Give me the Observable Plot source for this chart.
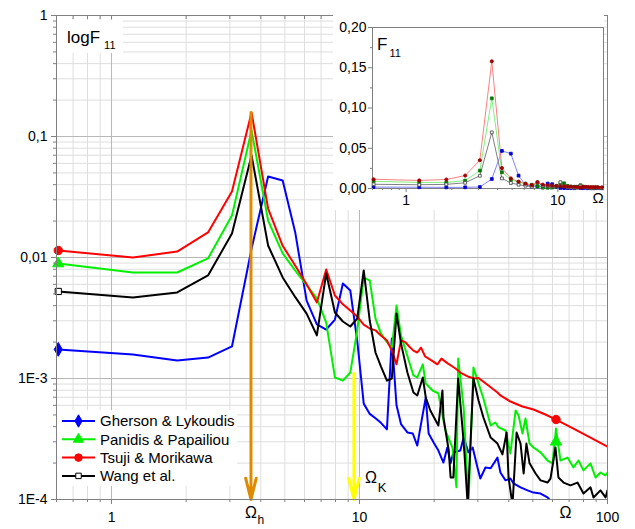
<!DOCTYPE html>
<html><head><meta charset="utf-8">
<script src="https://cdn.jsdelivr.net/npm/d3@7"></script>
<script src="https://cdn.jsdelivr.net/npm/@observablehq/plot@0.6"></script>
<style>
body{margin:0;background:#fff;}
#wrap{position:relative;width:635px;height:529px;overflow:hidden;font-family:"Liberation Sans",Arial,sans-serif;}
#wrap > svg{position:absolute;}
</style></head><body><div id="wrap"></div>
<script>
// ---------- data ----------
const seriesNames = ["Gherson & Lykoudis","Panidis & Papailiou","Tsuji & Morikawa","Wang et al."];
const seriesColors = ["#0000ff","#00f000","#ff0000","#000000"];
const insetLineColors = ["#8080ff","#80f080","#ff8080","#808080"];
const insetDotColors = ["#0000d0","#007a00","#a00000","#404040"];

const omegaGherson = [0.61,1.22,1.84,2.45,3.06,3.67,4.28,4.9,5.51,6.12,6.73,7.34,7.96,8.57,9.18,9.79,10.4,11.0,11.6,12.2,12.9,13.5,14.1,14.7,15.6,16.4,17.1,17.6,18.5,19.0,19.9,20.8,21.8,22.6,23.3,23.9,25.5,26.3,27.5,28.6,29.9,30.7,32.2,33.8,36.0,37.0,38.8,40.6,41.8,44.6,47.6,50.3,53.7,57.3,58.9];
const fGherson = [0.00174,0.00158,0.00141,0.00149,0.00184,0.0118,0.0467,0.0433,0.016,0.0044,0.0028,0.00254,0.00307,0.0061,0.00534,0.00206,0.00062,0.00051,0.00047,0.00043,0.00038,0.00214,0.0006,0.00042,0.000358,0.000351,0.000279,0.000394,0.000697,0.000351,0.000296,0.000254,0.000202,0.000269,0.000199,0.000245,0.000254,0.000325,0.000245,0.000269,0.000184,0.000149,0.000184,0.000181,0.000222,0.000167,0.000144,0.000149,0.000136,0.000126,0.000119,0.000114,0.000112,0.000104,0.000098];

const omegaPanidis = [0.61,1.22,1.84,2.45,3.06,3.67,4.28,4.9,5.51,6.12,6.73,7.34,7.96,8.57,9.18,9.79,10.4,11.0,11.6,12.2,12.9,13.5,14.1,14.7,15.8,16.5,17.1,18.0,18.5,19.7,20.8,22.2,23.7,24.6,25.0,26.3,27.5,28.8,30.2,31.6,33.8,35.3,36.4,38.8,40.6,42.6,43.8,45.4,46.7,48.5,50.3,53.7,57.3,60.0,62.0,64.6,69.0,72.9,76.4,80.0,85.4,89.5,93.7,98.2,100];
const fPanidis = [0.00891,0.00752,0.00752,0.00982,0.0222,0.112,0.0202,0.0108,0.0078,0.0059,0.0046,0.0029,0.00102,0.00096,0.00112,0.0025,0.00684,0.00645,0.00313,0.00236,0.002,0.0018,0.00401,0.00227,0.00141,0.00106,0.00102,0.00131,0.00091,0.000796,0.000752,0.000372,0.000269,0.000126,0.00146,0.000575,0.00009,0.00123,0.00091,0.000684,0.000409,0.000433,0.000394,0.000372,0.00024,0.000544,0.000494,0.000351,0.000467,0.00029,0.000269,0.000245,0.00021,0.000199,0.000386,0.00021,0.000222,0.000184,0.00021,0.000174,0.000199,0.000152,0.000167,0.000158,0.000167];

const omegaTsuji = [0.61,1.22,1.84,2.45,3.06,3.67,4.28,4.9,5.51,6.12,6.73,7.34,7.96,8.57,9.18,9.79,10.4,11.0,11.6,12.2,12.9,13.5,14.1,14.7,15.3,15.9,16.5,17.1,17.7,18.4,19.5,20.6,21.4,22.6,24.4,25.5,27.3,29.1,30.2,33.1,36.0,37.0,40.6,45.4,50.3,56.2,62.0,72.9,85.4,100];
const fTsuji = [0.01143,0.0100,0.0112,0.0161,0.0351,0.158,0.0254,0.0125,0.00855,0.006,0.00425,0.00796,0.00485,0.0041,0.00365,0.00325,0.00279,0.00259,0.0025,0.00227,0.00206,0.0017,0.00131,0.00206,0.002,0.00183,0.0017,0.00164,0.0018,0.00152,0.00141,0.00131,0.00146,0.00134,0.00121,0.00112,0.00104,0.0010,0.00101,0.000875,0.000766,0.000724,0.000645,0.000587,0.000554,0.000504,0.000458,0.000386,0.000325,0.000274];

const omegaWang = [0.61,1.22,1.84,2.45,3.06,3.67,4.28,4.9,5.51,6.12,6.73,7.34,7.96,8.57,9.18,9.79,10.4,11.0,11.6,12.2,12.9,13.5,14.1,14.7,15.6,16.5,17.1,18.0,18.5,19.3,20.8,21.6,21.8,22.9,23.3,23.9,25.0,26.0,26.5,27.3,28.8,30.2,31.6,33.8,36.0,37.7,39.2,39.9,41.4,43.0,44.6,45.9,47.1,48.5,51.3,53.7,57.3,58.9,61.7,63.4,66.5,70.9,75.7,80.0,85.4,87.8,93.7,98.2,100];
const fWang = [0.00524,0.00467,0.00514,0.0071,0.0158,0.0697,0.01257,0.00684,0.0047,0.00344,0.00227,0.00738,0.00351,0.00296,0.00269,0.00313,0.00781,0.0030,0.00164,0.00126,0.00096,0.001,0.00344,0.00195,0.00112,0.000766,0.000724,0.00102,0.000697,0.000544,0.000409,0.000796,0.000476,0.000254,0.000152,0.000152,0.001,0.000394,0.00024,0.00009,0.001,0.000658,0.000476,0.000325,0.00029,0.000236,0.000358,0.000152,0.00009,0.000358,0.00029,0.000164,0.00029,0.000199,0.000164,0.000144,0.000138,0.000149,0.000269,0.000152,0.000138,0.000131,0.000138,0.000112,0.000126,0.000104,0.000119,0.000104,0.000119];

const markerSeries = ["Gherson & Lykoudis","Panidis & Papailiou","Tsuji & Morikawa","Wang et al.","Panidis & Papailiou","Tsuji & Morikawa"];
const markerOmega = [0.61,0.61,0.61,0.61,62.0,62.0];
const markerF = [0.00174,0.00891,0.01143,0.00524,0.0003,0.000458];

const omegaH = 3.65, arrowHFrom = 0.158;
const omegaK = 9.5, arrowKFrom = 0.0011;
const omegaAxisTitle = 67.7, insetOmegaTitle = 18.4;

const xMajor = [1,10,100]; const xLabels = ["1","10","100"];
const yMajor = [1e-4,1e-3,0.01,0.1,1]; const yLabels = ["1E-4","1E-3","0,01","0,1","1"];
const insetYTicks = [0,0.05,0.1,0.15,0.2]; const insetYLabels = ["0,00","0,05","0,10","0,15","0,20"];
const insetYMinor = [0.025,0.075,0.125,0.175];
const insetXMajor = [1,10]; const insetXLabels = ["1","10"];

// ---------- build ----------
const FONT = '"Liberation Sans", Arial, sans-serif';
const omegas = [omegaGherson, omegaPanidis, omegaTsuji, omegaWang];
const values = [fGherson, fPanidis, fTsuji, fWang];
const series = seriesNames.map((name, i) => ({
  name, color: seriesColors[i], insetLine: insetLineColors[i], insetDot: insetDotColors[i],
  rows: omegas[i].map((o, j) => ({omega: o, F: values[i][j]}))
}));
const markers = markerSeries.map((s, i) => ({series: s, omega: markerOmega[i], F: markerF[i]}));
const symbols = ["diamond","triangle","circle","square"];

const isMajor = (v, maj) => maj.some(m => Math.abs(v / m - 1) < 1e-9);
const xAll = d3.scaleLog().domain([0.6, 100]).ticks();
const xMinor = xAll.filter(v => !isMajor(v, xMajor));
const yMinor = d3.scaleLog().domain([1e-4, 1]).ticks().filter(v => !isMajor(v, yMajor));

const W = 635, H = 529, mL = 56, mR = 28, mT = 15, mB = 30;
const frameH = H - mT - mB;
const GRIDMIN = "#dedede", GRIDMAJ = "#b8b8b8", AX = "#808080";

const mainMarks = [
  Plot.gridX(xMinor, {stroke: GRIDMIN, strokeOpacity: 1}),
  Plot.gridY(yMinor, {stroke: GRIDMIN, strokeOpacity: 1}),
  Plot.gridX(xMajor, {stroke: GRIDMAJ, strokeOpacity: 1}),
  Plot.gridY(yMajor, {stroke: GRIDMAJ, strokeOpacity: 1}),
];
series.forEach(s => mainMarks.push(Plot.line(s.rows, {x: "omega", y: "F", stroke: s.color, strokeWidth: 2, clip: true})));
series.forEach((s, i) => {
  const m = markers.filter(d => d.series === s.name);
  mainMarks.push(Plot.dot(m, {x: "omega", y: "F", symbol: () => symbols[i], r: i === 3 ? 3.5 : 4.2,
    fill: i === 3 ? "#fff" : s.color, stroke: s.color, strokeWidth: 1}));
});
mainMarks.push(
  Plot.arrow([{x1: omegaH, y1: arrowHFrom, x2: omegaH, y2: 1e-4}], {x1: "x1", y1: "y1", x2: "x2", y2: "y2", stroke: "#e08a00", strokeWidth: 3, headLength: 11, headAngle: 28}),
  Plot.arrow([{x1: omegaK, y1: arrowKFrom, x2: omegaK, y2: 1e-4}], {x1: "x1", y1: "y1", x2: "x2", y2: "y2", stroke: "#ffff00", strokeWidth: 3, headLength: 11, headAngle: 28}),
  Plot.frame({stroke: AX}),
  Plot.axisY(yMajor, {anchor: "left", tickSize: 5, tickPadding: 4, stroke: AX, fill: "#000", fontSize: 14, label: null, tickFormat: d => yLabels[yMajor.indexOf(d)]}),
  Plot.axisY(yMinor, {anchor: "left", tickSize: 3, stroke: AX, label: null, tickFormat: () => ""}),
  Plot.axisX(xMajor, {anchor: "bottom", tickSize: 5, tickPadding: 8, stroke: AX, fill: "#000", fontSize: 14, label: null, tickFormat: d => xLabels[xMajor.indexOf(d)]}),
  Plot.axisX(xMinor, {anchor: "bottom", tickSize: 3, stroke: AX, label: null, tickFormat: () => ""}),
  Plot.tickX(xAll, {insetBottom: frameH - 4, stroke: AX}),
  Plot.text([{x: omegaAxisTitle, t: "Ω"}], {x: "x", text: "t", frameAnchor: "bottom", dy: 18, fontSize: 16, fill: "#000"}),
  Plot.text([{x: omegaH, t: "Ω"}], {x: "x", text: "t", frameAnchor: "bottom", dy: 18, fontSize: 16, fill: "#000"}),
  Plot.text([{x: omegaH, t: "h"}], {x: "x", text: "t", frameAnchor: "bottom", dx: 10, dy: 24, fontSize: 12, fill: "#000"}),
  Plot.text([{x: omegaK, t: "Ω"}], {x: "x", text: "t", frameAnchor: "bottom", dx: 17, dy: -17, fontSize: 16, fill: "#000"}),
  Plot.text([{x: omegaK, t: "K"}], {x: "x", text: "t", frameAnchor: "bottom", dx: 28, dy: -8, fontSize: 13, fill: "#000"})
);

const mainSvg = Plot.plot({
  width: W, height: H, marginLeft: mL, marginRight: mR, marginTop: mT, marginBottom: mB,
  style: {background: "#fff", fontFamily: FONT, fontSize: "14px", color: "#000"},
  x: {type: "log", domain: [0.6, 100], label: null},
  y: {type: "log", domain: [1e-4, 1], label: null},
  marks: mainMarks
});
mainSvg.style.left = "0px"; mainSvg.style.top = "0px";
document.getElementById("wrap").appendChild(mainSvg);

// ---------- inset ----------
const insetXAll = d3.scaleLog().domain([0.6, 20]).ticks();
const insetXMinor = insetXAll.filter(v => !isMajor(v, insetXMajor));
const insetMarks = [Plot.frame({stroke: AX})];
[0, 1, 3, 2].forEach(i => {
  const s = series[i];
  const r = s.rows.filter(d => d.omega <= 21);
  insetMarks.push(Plot.line(r, {x: "omega", y: "F", stroke: s.insetLine, strokeWidth: 1, clip: true}));
});
[0, 1, 3, 2].forEach(i => {
  const s = series[i];
  const r = s.rows.filter(d => d.omega <= 20);
  insetMarks.push(Plot.dot(r, {x: "omega", y: "F", symbol: i === 2 ? "circle" : "square", r: 1.6,
    fill: i === 3 ? "#fff" : s.insetDot, stroke: s.insetDot, strokeWidth: 0.8}));
});
insetMarks.push(
  Plot.axisY(insetYTicks, {anchor: "left", tickSize: 4, tickPadding: 2, stroke: AX, fill: "#000", fontSize: 14, label: null, tickFormat: d => insetYLabels[insetYTicks.indexOf(d)]}),
  Plot.axisY(insetYMinor, {anchor: "left", tickSize: 2, stroke: AX, label: null, tickFormat: () => ""}),
  Plot.axisX(insetXMajor, {anchor: "bottom", tickSize: 4, tickPadding: 3, stroke: AX, fill: "#000", fontSize: 14, label: null, tickFormat: d => insetXLabels[insetXMajor.indexOf(d)]}),
  Plot.axisX(insetXMinor, {anchor: "bottom", tickSize: 2, stroke: AX, label: null, tickFormat: () => ""}),
  Plot.text([{x: insetOmegaTitle, t: "Ω"}], {x: "x", text: "t", frameAnchor: "bottom", dy: 14, fontSize: 15, fill: "#000"})
);
const insetSvg = Plot.plot({
  width: 271, height: 195, marginLeft: 39, marginRight: 1, marginTop: 12, marginBottom: 22,
  style: {background: "#fff", fontFamily: FONT, fontSize: "14px", color: "#000"},
  x: {type: "log", domain: [0.6, 20], label: null},
  y: {domain: [0, 0.2], label: null},
  marks: insetMarks
});
insetSvg.style.left = "333px"; insetSvg.style.top = "15px";
document.getElementById("wrap").appendChild(insetSvg);

// ---------- overlay: titles and legend ----------
const ov = d3.select("#wrap").append("svg").attr("width", W).attr("height", H)
  .style("left", "0px").style("top", "0px").style("font-family", FONT).style("pointer-events", "none");
ov.append("rect").attr("x", 57).attr("y", 20).attr("width", 66).attr("height", 33).attr("fill", "#fff");
const t1 = ov.append("text").attr("x", 67).attr("y", 43).attr("font-size", 17);
t1.append("tspan").text("logF");
t1.append("tspan").attr("font-size", 11).attr("dx", 4).attr("dy", 6).text("11");
const t2 = ov.append("text").attr("x", 377).attr("y", 50).attr("font-size", 17);
t2.append("tspan").text("F");
t2.append("tspan").attr("font-size", 11).attr("dx", 2).attr("dy", 7).text("11");

const legendSymbols = [d3.symbolDiamond, d3.symbolTriangle, d3.symbolCircle, d3.symbolSquare];
ov.append("rect").attr("x", 57).attr("y", 410).attr("width", 180).attr("height", 76).attr("fill", "#fff");
seriesNames.forEach((name, i) => {
  const y = 421 + i * 18.3;
  ov.append("line").attr("x1", 62).attr("x2", 95).attr("y1", y).attr("y2", y)
    .attr("stroke", seriesColors[i]).attr("stroke-width", 2);
  ov.append("path").attr("d", d3.symbol(legendSymbols[i], i === 3 ? 30 : 45)())
    .attr("transform", `translate(78.5,${y})`)
    .attr("fill", i === 3 ? "#fff" : seriesColors[i]).attr("stroke", seriesColors[i]).attr("stroke-width", 1);
  ov.append("text").attr("x", 100).attr("y", y + 5.3).attr("font-size", 15).attr("fill", "#000").text(name);
});
</script>
</body></html>
